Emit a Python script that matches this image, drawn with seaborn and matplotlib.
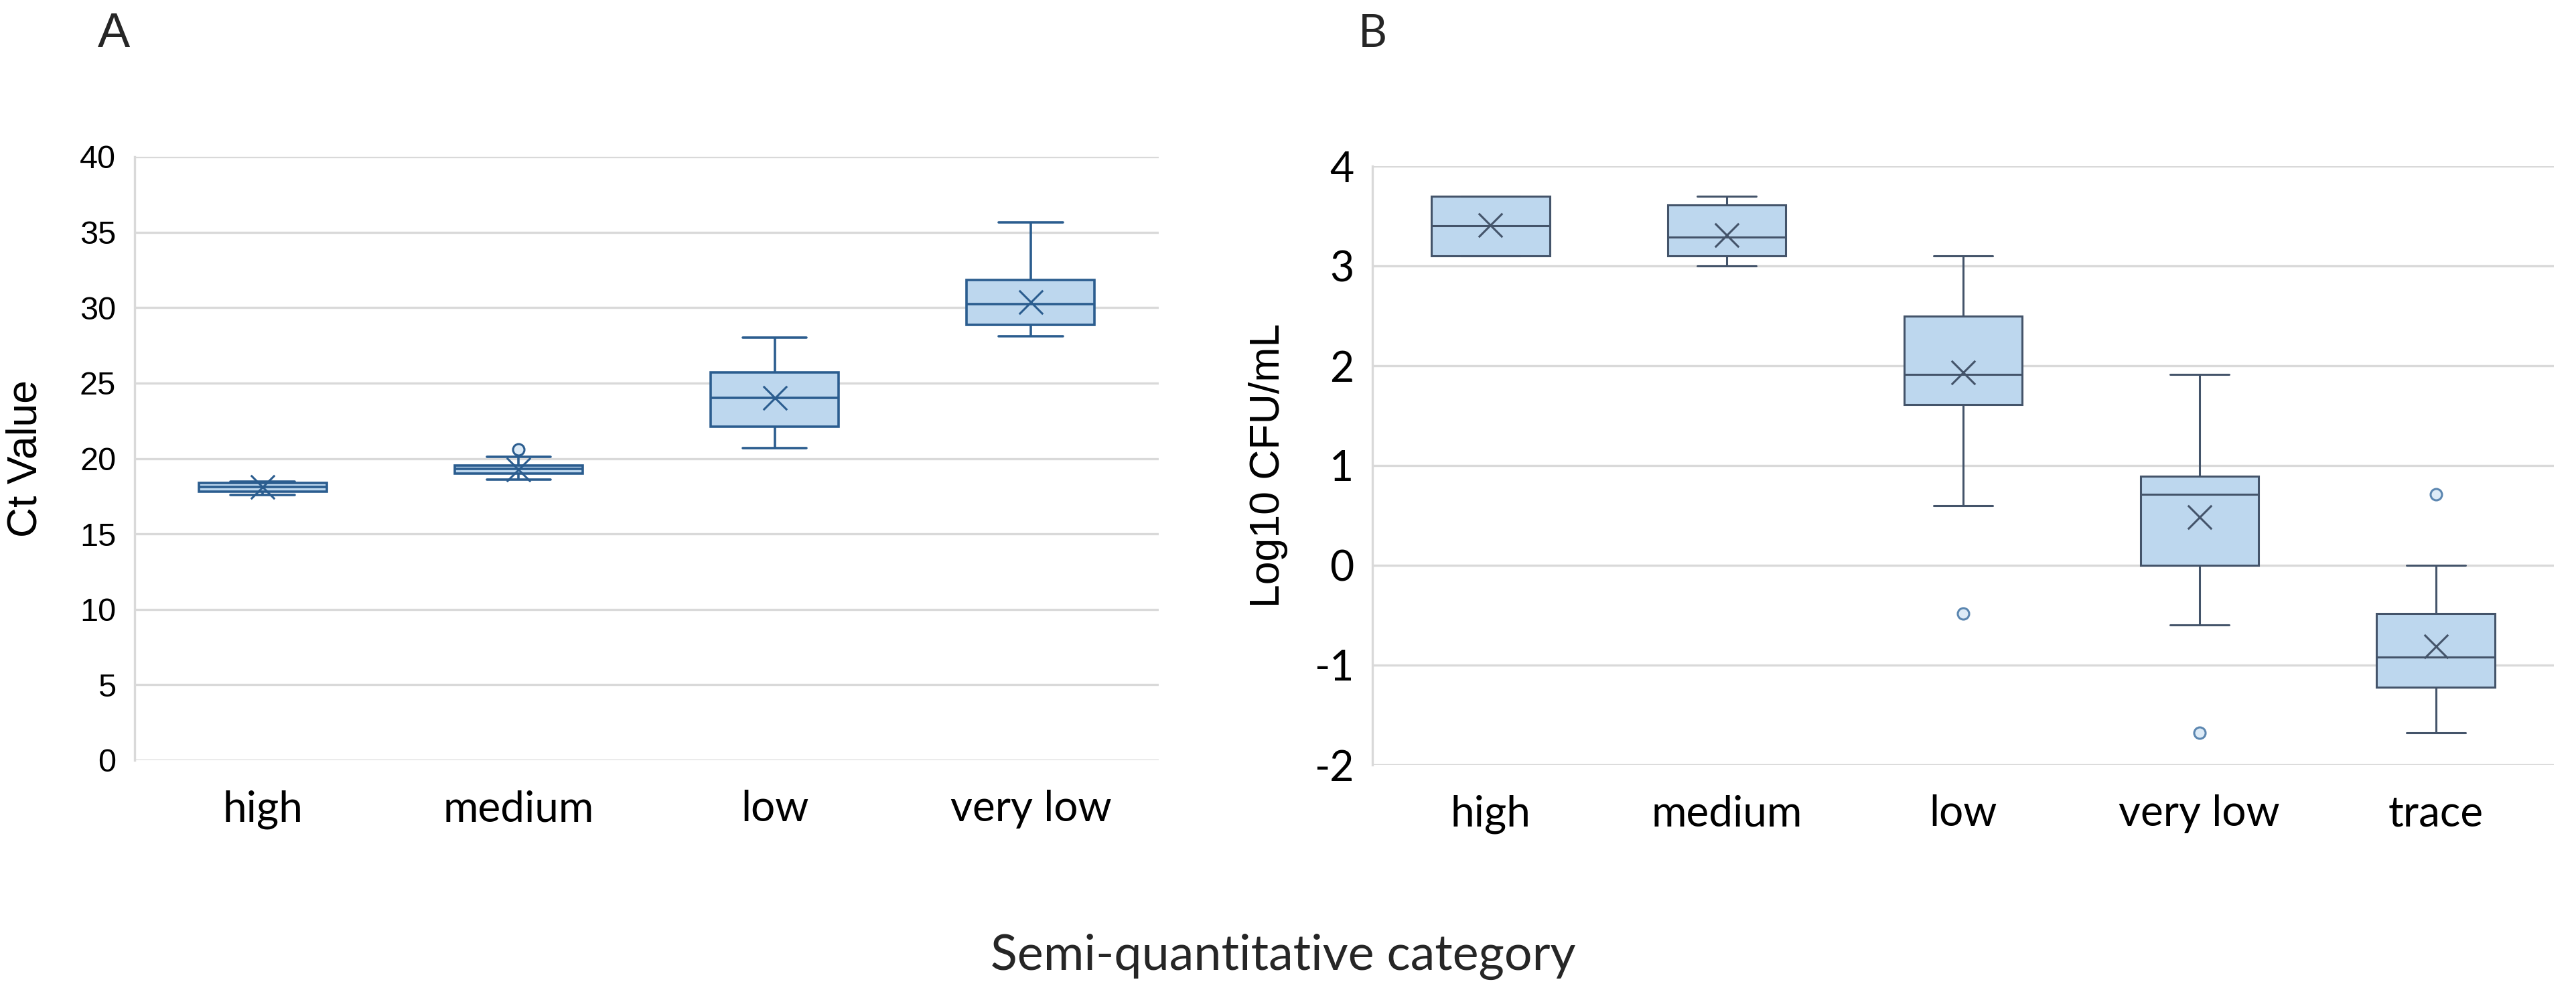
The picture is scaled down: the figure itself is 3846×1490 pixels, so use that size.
import numpy as np
import pandas as pd
import matplotlib
matplotlib.use("Agg")
import matplotlib.pyplot as plt
import seaborn as sns

# ---------------- data ----------------
cats_a = ["high", "medium", "low", "very low"]
a_whislo = [17.6, 18.6, 20.7, 28.1]
a_q1 = [17.8, 19.0, 22.1, 28.85]
a_med = [18.1, 19.3, 24.0, 30.25]
a_q3 = [18.4, 19.55, 25.7, 31.85]
a_whishi = [18.45, 20.1, 28.0, 35.65]
a_mean = [18.1, 19.25, 24.0, 30.35]
a_out_cat = ["medium"]
a_out_val = [20.6]
a_yticks = [0, 5, 10, 15, 20, 25, 30, 35, 40]

cats_b = ["high", "medium", "low", "very low", "trace"]
b_whislo = [3.1, 3.0, 0.6, -0.6, -1.68]
b_q1 = [3.1, 3.1, 1.61, 0.0, -1.22]
b_med = [3.4, 3.29, 1.91, 0.71, -0.92]
b_q3 = [3.7, 3.61, 2.5, 0.89, -0.48]
b_whishi = [3.7, 3.7, 3.1, 1.91, 0.0]
b_mean = [3.41, 3.31, 1.93, 0.48, -0.81]
b_out_cat = ["low", "very low", "trace"]
b_out_val = [-0.48, -1.68, 0.71]
b_yticks = [-2, -1, 0, 1, 2, 3, 4]

ylabel_a = "Ct Value"
ylabel_b = "Log10 CFU/mL"
xlabel = "Semi-quantitative category"

# ---------------- styling ----------------
sns.set_theme(style="whitegrid")
plt.rcParams["font.family"] = ["Lato", "DejaVu Sans"]

FILL = "#BDD7EE"
EDGE_A = "#2B5D8F"
EDGE_B = "#44546A"
GRID = "#D9D9D9"

fig = plt.figure(figsize=(38.46, 14.90), dpi=100)
fig.patch.set_facecolor("white")

W, H = 3846, 1490
def rect(l, t, r, b):
    return [l / W, 1 - b / H, (r - l) / W, (b - t) / H]

ax_a = fig.add_axes(rect(201, 234, 1730, 1135))
ax_b = fig.add_axes(rect(2049, 248, 3813, 1142))


def five_number_frame(cats, lo, q1, med, q3, hi):
    rows = []
    for c, a, b, m, d, e in zip(cats, lo, q1, med, q3, hi):
        for v in (a, b, m, d, e):
            rows.append({"category": c, "value": v})
    return pd.DataFrame(rows)


def draw_panel(ax, cats, lo, q1, med, q3, hi, means, out_cat, out_val,
               edge, lw, out_edge, out_face, yticks, tick_font, tick_size):
    df = five_number_frame(cats, lo, q1, med, q3, hi)
    sns.boxplot(data=df, x="category", y="value", order=cats, whis=(0, 100),
                width=0.5, color=FILL, linecolor=edge, linewidth=lw,
                saturation=1, fliersize=0, ax=ax, zorder=3)
    pos = np.arange(len(cats))
    sns.scatterplot(x=pos, y=means, marker="x", s=650, color=edge,
                    linewidth=2.2, ax=ax, zorder=6, legend=False)
    opos = [cats.index(c) for c in out_cat]
    sns.scatterplot(x=opos, y=out_val, marker="o", s=150, facecolor=out_face,
                    edgecolor=out_edge, linewidth=2.2, ax=ax, zorder=6,
                    legend=False)
    ax.set_xlim(-0.5, len(cats) - 0.5)
    ax.set_ylim(min(yticks), max(yticks))
    ax.set_yticks(yticks)
    ax.set_yticklabels([str(t) for t in yticks], family=tick_font,
                       fontsize=tick_size, color="#000000")
    ax.set_xticks(pos)
    ax.set_xticklabels(cats, fontsize=46, family="Lato", color="#000000")
    ax.set_xlabel("")
    ax.grid(axis="y", color=GRID, linewidth=2.4)
    ax.grid(axis="x", visible=False)
    ax.set_axisbelow(True)
    for s in ("top", "right", "bottom"):
        ax.spines[s].set_visible(False)
    ax.spines["left"].set_color(GRID)
    ax.spines["left"].set_linewidth(2.4)
    ax.tick_params(axis="both", length=0)
    ax.tick_params(axis="x", pad=32)
    ax.set_facecolor("white")


draw_panel(ax_a, cats_a, a_whislo, a_q1, a_med, a_q3, a_whishi, a_mean,
           a_out_cat, a_out_val, EDGE_A, 2.6, EDGE_A, "#DDEBF7", a_yticks,
           "Liberation Sans", 35)
ax_a.tick_params(axis="y", pad=20)

draw_panel(ax_b, cats_b, b_whislo, b_q1, b_med, b_q3, b_whishi, b_mean,
           b_out_cat, b_out_val, EDGE_B, 2.2, "#5B86B0", "#DDEBF7", b_yticks,
           "Lato", 45)
ax_b.tick_params(axis="y", pad=20)

ax_a.set_ylabel(ylabel_a, family="Liberation Sans", fontsize=45, color="#000000")
ax_a.yaxis.set_label_coords(-0.087, 0.5)
ax_b.set_ylabel(ylabel_b, family="Liberation Sans", fontsize=45, color="#000000")
ax_b.yaxis.set_label_coords(-0.0714, 0.5)

fig.text(170 / W, 1 - 51 / H, "A", family="Liberation Sans", fontsize=52,
         ha="center", va="center")
fig.text(2049 / W, 1 - 51 / H, "B", family="Lato", fontsize=48,
         ha="center", va="center")
fig.text(1916 / W, 1 - 1448 / H, xlabel, family="Lato", fontsize=53,
         ha="center", va="baseline")

fig.savefig("out.png", dpi=100, facecolor="white")
